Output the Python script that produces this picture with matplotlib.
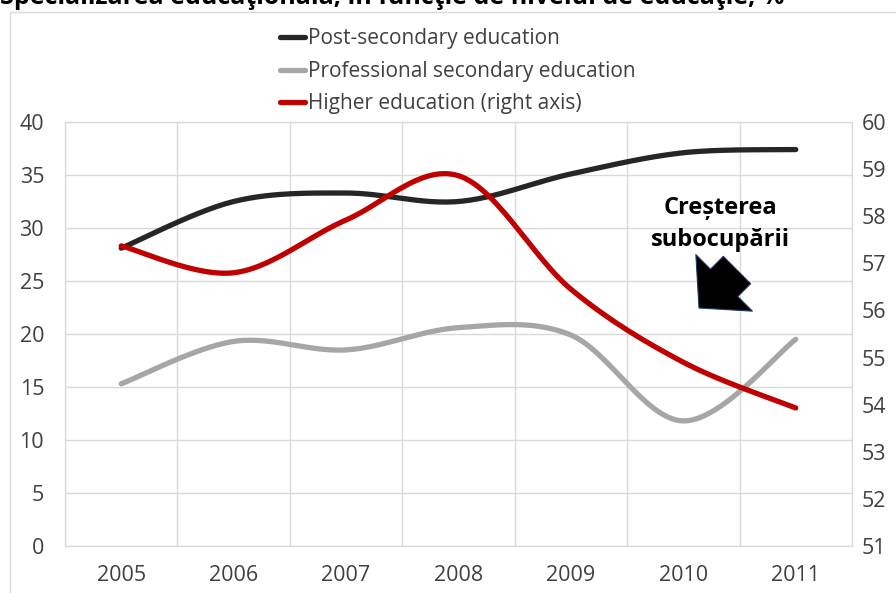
import numpy as np
import matplotlib
matplotlib.use("Agg")
import matplotlib.pyplot as plt
from matplotlib.patches import Rectangle

plt.rcParams['font.family'] = ['Open Sans', 'DejaVu Sans']

years = ['2005', '2006', '2007', '2008', '2009', '2010', '2011']
post_secondary = [28.1, 32.5, 33.3, 32.5, 35.1, 37.1, 37.4]
professional = [15.3, 19.3, 18.5, 20.6, 19.9, 11.8, 19.5]
higher = [57.37, 56.8, 57.92, 58.86, 56.45, 54.9, 53.93]


def smooth(xs, ys, n=30):
    # excel-like smoothed line: catmull-rom bezier between points
    xs = np.asarray(xs, float)
    ys = np.asarray(ys, float)
    px = np.concatenate([[xs[0]], xs, [xs[-1]]])
    py = np.concatenate([[ys[0]], ys, [ys[-1]]])
    out_x, out_y = [], []
    t = np.linspace(0, 1, n)
    for i in range(1, len(px) - 2):
        p0 = np.array([px[i], py[i]])
        p3 = np.array([px[i + 1], py[i + 1]])
        c1 = p0 + (np.array([px[i + 1], py[i + 1]]) - np.array([px[i - 1], py[i - 1]])) / 6
        c2 = p3 - (np.array([px[i + 2], py[i + 2]]) - np.array([px[i], py[i]])) / 6
        b = ((1 - t) ** 3)[:, None] * p0 + (3 * (1 - t) ** 2 * t)[:, None] * c1 \
            + (3 * (1 - t) * t ** 2)[:, None] * c2 + (t ** 3)[:, None] * p3
        out_x.extend(b[:, 0])
        out_y.extend(b[:, 1])
    return out_x, out_y


fig = plt.figure(figsize=(8.96, 5.93), dpi=100)
ax = fig.add_axes([65 / 896, 47 / 593, 787 / 896, 424 / 593])
ax2 = ax.twinx()

x = np.arange(len(years))
grid_c = '#d9d9d9'

sx, sy = smooth(x, post_secondary)
l1, = ax.plot(sx, sy, color='#262626', lw=3.8, solid_capstyle='round',
              label='Post-secondary education')
sx, sy = smooth(x, professional)
l2, = ax.plot(sx, sy, color='#a6a6a6', lw=3.8, solid_capstyle='round',
              label='Professional secondary education')
sx, sy = smooth(x, higher)
l3, = ax2.plot(sx, sy, color='#c00000', lw=3.8, solid_capstyle='round',
               label='Higher education (right axis)')

ax.set_xlim(-0.5, len(years) - 0.5)
ax.set_ylim(0, 40)
ax.set_yticks(range(0, 41, 5))
ax2.set_ylim(51, 60)
ax2.set_yticks(range(51, 61))
ax.set_xticks(x)
ax.set_xticklabels(years)
ax.set_xticks(np.arange(-0.5, len(years), 1), minor=True)

ax.grid(True, axis='y', color=grid_c, lw=1)
ax.grid(True, axis='x', which='minor', color=grid_c, lw=1)
ax.set_axisbelow(True)
for a in (ax, ax2):
    for s in a.spines.values():
        s.set_color(grid_c)

ax.tick_params(axis='both', which='both', length=0, labelsize=15.5, labelcolor='#404040')
ax.tick_params(axis='y', pad=15)
ax.tick_params(axis='x', pad=14)
ax2.tick_params(axis='y', length=0, labelsize=15.5, labelcolor='#404040', pad=7)

fig.legend(handles=[l1, l2, l3], loc='upper left', bbox_to_anchor=(272 / 896, 1 - 20 / 593),
           frameon=False, fontsize=15, handlelength=1.2, handletextpad=0.15,
           labelspacing=0.55, labelcolor='#404040', borderaxespad=0)

fig.text(720 / 896, 1 - 224 / 593, 'Creșterea\nsubocupării', ha='center', va='center',
         fontsize=17, fontweight='bold', linespacing=1.45, color='black')
ax.annotate('', xy=(699, 593 - 308), xytext=(737, 593 - 270), xycoords='figure pixels',
            textcoords='figure pixels',
            arrowprops=dict(arrowstyle='simple,head_length=0.8,head_width=1.8,tail_width=0.87',
                            fc='black', ec='#1f3864', lw=0.8, mutation_scale=32,
                            shrinkA=0, shrinkB=0))

fig.add_artist(Rectangle((10 / 896, -0.05), 1.0, 1 - 12 / 593 + 0.05, transform=fig.transFigure,
                         fill=False, ec=grid_c, lw=1))
fig.text(0, 1 + 2 / 593, 'Specializarea educaţională, în funcţie de nivelul de educaţie, %',
         ha='left', va='center', fontsize=18, fontweight='bold', color='black')

fig.savefig('out.png', dpi=100)
